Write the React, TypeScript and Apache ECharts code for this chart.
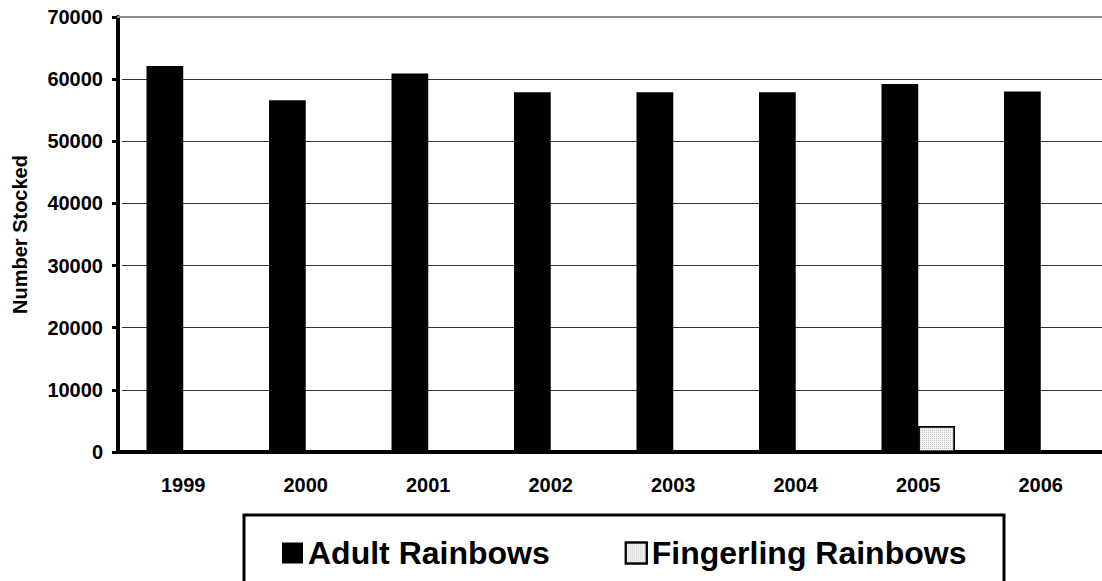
import React, { useEffect, useRef } from "react";
import * as echarts from "echarts";

const years = ["1999", "2000", "2001", "2002", "2003", "2004", "2005", "2006"];
const adultRainbows = [62100, 56600, 60900, 57900, 57900, 57900, 59200, 58000];
const fingerlingRainbows = [0, 0, 0, 0, 0, 0, 4200, 0];
const yTicks = { min: 0, max: 70000, interval: 10000 };

const FONT = "'Liberation Sans', Arial, sans-serif";

// dotted light fill used for the fingerling bars and their legend key
const dotted = {
  symbol: "rect",
  symbolSize: 1,
  dashArrayX: [1, 1],
  dashArrayY: [1, 1],
  rotation: 0,
  color: "#c4c4c4",
};

export default function App() {
  const ref = useRef<HTMLDivElement>(null);

  useEffect(() => {
    if (!ref.current) return;
    const chart = echarts.init(ref.current, null, { renderer: "svg" });
    chart.setOption({
      animation: false,
      backgroundColor: "#ffffff",
      textStyle: { fontFamily: FONT },
      grid: { left: 122, top: 17, width: 986, height: 435, containLabel: false },
      legend: {
        left: 282,
        top: 537,
        padding: 0,
        itemWidth: 21,
        itemHeight: 21,
        itemGap: 75,
        icon: "rect",
        textStyle: { fontSize: 32, fontWeight: "bold", color: "#000", fontFamily: FONT },
        data: ["Adult Rainbows", "Fingerling Rainbows"],
      },
      xAxis: {
        type: "category",
        data: years,
        boundaryGap: true,
        axisLine: { show: true, lineStyle: { color: "#000", width: 4 } },
        axisTick: { show: false },
        axisLabel: {
          margin: 23,
          fontSize: 20,
          fontWeight: "bold",
          color: "#000",
          fontFamily: FONT,
        },
      },
      yAxis: {
        type: "value",
        min: yTicks.min,
        max: yTicks.max,
        interval: yTicks.interval,
        offset: 4,
        name: "Number Stocked",
        nameLocation: "middle",
        nameGap: 88,
        nameRotate: 90,
        nameTextStyle: { fontSize: 20, fontWeight: "bold", color: "#000", fontFamily: FONT },
        axisLine: { show: true, lineStyle: { color: "#000", width: 4 } },
        axisTick: { show: true, length: 6, lineStyle: { color: "#000", width: 3 } },
        axisLabel: {
          margin: 15,
          fontSize: 20,
          fontWeight: "bold",
          color: "#000",
          fontFamily: FONT,
          formatter: (v: number) => String(v),
        },
        splitLine: {
          show: true,
          lineStyle: {
            color: ["#000", "#333", "#333", "#333", "#333", "#333", "#333", "#8a8a8a"],
            width: 1,
          },
        },
      },
      series: [
        {
          name: "Adult Rainbows",
          type: "bar",
          data: adultRainbows,
          barGap: "0%",
          barCategoryGap: "40%",
          itemStyle: { color: "#000" },
        },
        {
          name: "Fingerling Rainbows",
          type: "bar",
          data: fingerlingRainbows,
          itemStyle: { color: "#f4f4f4", borderColor: "#000", borderWidth: 1.5, decal: dotted },
        },
      ],
      graphic: [
        {
          type: "rect",
          shape: { x: 244, y: 515, width: 760, height: 90 },
          style: { fill: "none", stroke: "#000", lineWidth: 3 },
          z: 10,
        },
        {
          // the x axis line meets the offset y axis
          type: "line",
          shape: { x1: 116, y1: 452, x2: 123, y2: 452 },
          style: { stroke: "#000", lineWidth: 4 },
          z: 10,
        },
        {
          type: "line",
          shape: { x1: 117, y1: 17, x2: 1102, y2: 17 },
          style: { stroke: "#8a8a8a", lineWidth: 2 },
          z: 1,
        },
      ],
    });
    return () => chart.dispose();
  }, []);

  return (
    <div
      ref={ref}
      style={{ position: "fixed", left: 0, top: 0, width: 1102, height: 581, background: "#fff" }}
    />
  );
}
